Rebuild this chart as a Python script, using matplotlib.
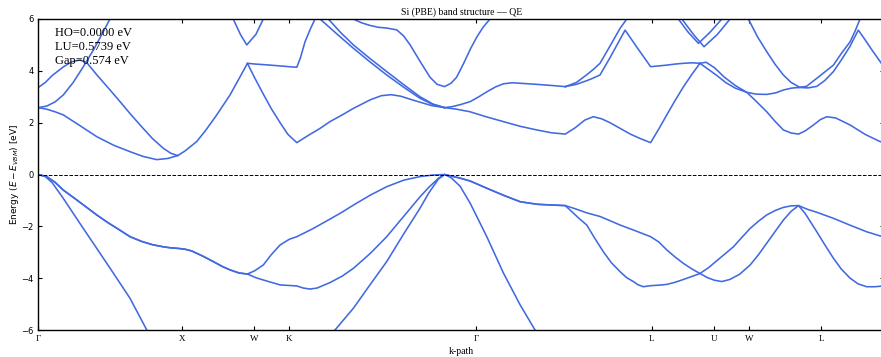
import matplotlib.pyplot as plt

plt.rcParams['font.family'] = 'Liberation Serif'
plt.rcParams['mathtext.fontset'] = 'dejavusans'

# k-axis ticks and labels
tick_pos = [0.0, 1.029, 1.547, 1.801, 3.140, 4.400, 4.845, 5.100, 5.615]
tick_lab = ['Γ', 'X', 'W', 'K', 'Γ', 'L', 'U', 'W', 'L']
k_end = 6.066

# valence bands (E - E_VBM, eV)
vb2a_k = [0.0, 0.05, 0.10, 0.179, 0.30, 0.419, 0.54, 0.658, 0.778, 0.82]
vb2a_e = [0.0, -0.08, -0.32, -0.92, -1.90, -2.85, -3.82, -4.78, -6.0, -6.35]

vb2b_k = [2.09, 2.128, 2.260, 2.38, 2.499, 2.62, 2.738, 2.80, 2.869, 2.914,
          2.96, 3.025, 3.097, 3.217, 3.336, 3.456, 3.563, 3.60]
vb2b_e = [-6.3, -6.0, -5.16, -4.25, -3.36, -2.30, -1.30, -0.72, -0.18, 0.0,
          -0.12, -0.45, -1.10, -2.40, -3.80, -5.03, -6.0, -6.3]

vb3_k = [0.0, 0.06, 0.12, 0.179, 0.25, 0.33, 0.419, 0.50, 0.58, 0.658, 0.74, 0.82, 0.897, 0.95, 1.0,
         1.05, 1.10, 1.18, 1.255, 1.32, 1.375, 1.44, 1.5,
         1.56, 1.614, 1.734, 1.854,
         1.90, 1.949, 2.00, 2.092, 2.18, 2.260, 2.38, 2.499, 2.62, 2.738, 2.80, 2.869, 2.914,
         2.97, 3.025, 3.097, 3.217, 3.336, 3.456, 3.58, 3.694, 3.780,
         3.83, 3.88, 3.934, 3.99, 4.053, 4.11, 4.173, 4.22, 4.268, 4.30, 4.340, 4.392,
         4.45, 4.508, 4.567, 4.627, 4.69, 4.746,
         4.80, 4.85, 4.903, 4.96, 5.03, 5.106, 5.165, 5.225, 5.285, 5.344, 5.40, 5.453,
         5.50, 5.584, 5.64, 5.703, 5.76, 5.823, 5.88, 5.942, 6.0, 6.066]
vb3_e = [0.0, -0.08, -0.30, -0.60, -0.88, -1.20, -1.56, -1.86, -2.13, -2.40, -2.58, -2.71, -2.79, -2.83, -2.85,
         -2.88, -2.95, -3.15, -3.36, -3.55, -3.68, -3.80, -3.84,
         -3.98, -4.07, -4.26, -4.30,
         -4.38, -4.42, -4.38, -4.17, -3.92, -3.62, -3.05, -2.40, -1.62, -0.86, -0.50, -0.15, 0.0,
         -0.07, -0.14, -0.25, -0.53, -0.80, -1.05, -1.15, -1.18, -1.20,
         -1.45, -1.70, -1.95, -2.45, -2.98, -3.40, -3.75, -3.98, -4.13, -4.25, -4.33, -4.29,
         -4.27, -4.24, -4.16, -4.05, -3.93, -3.82,
         -3.98, -4.08, -4.13, -4.05, -3.85, -3.49, -3.10, -2.65, -2.20, -1.76, -1.42, -1.20,
         -1.50, -2.21, -2.70, -3.23, -3.65, -4.00, -4.22, -4.33, -4.33, -4.30]

vb4_k = [0.0, 0.06, 0.12, 0.179, 0.25, 0.33, 0.419, 0.50, 0.58, 0.658, 0.74, 0.82, 0.897, 0.95, 1.0,
         1.05, 1.10, 1.18, 1.255, 1.32, 1.375, 1.44, 1.5,
         1.55, 1.614, 1.67, 1.734, 1.80, 1.854,
         1.91, 1.973, 2.092, 2.18, 2.260, 2.38, 2.499, 2.62, 2.738, 2.83, 2.914,
         2.97, 3.025, 3.097, 3.217, 3.336, 3.456, 3.58, 3.694, 3.780,
         3.85, 3.934, 4.029, 4.10, 4.173, 4.268, 4.33, 4.392,
         4.45, 4.508, 4.567, 4.627, 4.69, 4.746,
         4.806, 4.866, 4.926, 4.986, 5.046, 5.106, 5.166, 5.225, 5.285, 5.344, 5.40, 5.453,
         5.52, 5.58, 5.703, 5.82, 5.942, 6.038, 6.066]
vb4_e = [0.0, -0.08, -0.30, -0.60, -0.88, -1.20, -1.56, -1.86, -2.13, -2.40, -2.58, -2.71, -2.79, -2.83, -2.85,
         -2.88, -2.95, -3.15, -3.36, -3.55, -3.68, -3.80, -3.84,
         -3.72, -3.49, -3.10, -2.72, -2.50, -2.40,
         -2.25, -2.08, -1.72, -1.45, -1.18, -0.80, -0.47, -0.22, -0.08, -0.02, 0.0,
         -0.07, -0.14, -0.25, -0.53, -0.80, -1.05, -1.15, -1.18, -1.20,
         -1.32, -1.48, -1.62, -1.78, -1.95, -2.14, -2.27, -2.40,
         -2.60, -2.91, -3.18, -3.43, -3.65, -3.82,
         -3.60, -3.33, -3.06, -2.79, -2.43, -2.08, -1.80, -1.56, -1.39, -1.27, -1.21, -1.20,
         -1.35, -1.45, -1.69, -1.95, -2.21, -2.37, -2.40]

# conduction bands
cb5_k = [0.0, 0.06, 0.12, 0.179, 0.30, 0.419, 0.54, 0.658, 0.75, 0.849, 0.93, 1.0,
         1.05, 1.136, 1.20, 1.280, 1.375, 1.44, 1.5,
         1.55, 1.614, 1.67, 1.734, 1.79, 1.854,
         1.94, 2.021, 2.092, 2.18, 2.260, 2.38, 2.46, 2.53, 2.60, 2.67, 2.738, 2.82, 2.914,
         3.0, 3.097, 3.217, 3.336, 3.456, 3.575, 3.68, 3.780,
         3.85, 3.92, 3.981, 4.04, 4.10, 4.173, 4.25, 4.32, 4.392,
         4.45, 4.508, 4.567, 4.627, 4.69, 4.746]
cb5_e = [2.58, 2.52, 2.42, 2.30, 1.88, 1.46, 1.13, 0.88, 0.70, 0.5739, 0.62, 0.73,
         0.90, 1.27, 1.70, 2.30, 3.07, 3.70, 4.29,
         3.75, 3.10, 2.55, 2.00, 1.55, 1.23,
         1.52, 1.78, 2.04, 2.30, 2.55, 2.88, 3.04, 3.08, 3.02, 2.90, 2.79, 2.66, 2.58,
         2.52, 2.42, 2.22, 2.04, 1.86, 1.72, 1.61, 1.56,
         1.80, 2.10, 2.23, 2.15, 2.00, 1.78, 1.55, 1.38, 1.23,
         1.75, 2.30, 2.85, 3.38, 3.88, 4.29]

cb_wl_low_k = [4.746, 4.79, 4.85, 4.92, 5.0, 5.082, 5.15, 5.225, 5.285, 5.344, 5.40, 5.453,
               5.50, 5.560, 5.61, 5.656, 5.72, 5.823, 5.93, 6.038, 6.066]
cb_wl_low_e = [4.29, 4.33, 4.12, 3.76, 3.43, 3.17, 2.82, 2.42, 2.05, 1.72, 1.60, 1.56,
               1.68, 1.91, 2.12, 2.23, 2.18, 1.91, 1.55, 1.27, 1.23]
cb_wl_mid_k = [4.746, 4.80, 4.867, 4.93, 5.0, 5.082, 5.15, 5.225, 5.29, 5.344, 5.40, 5.453]
cb_wl_mid_e = [4.29, 4.08, 3.82, 3.55, 3.33, 3.17, 3.10, 3.09, 3.15, 3.26, 3.33, 3.36]

cb_d2_k = [0.0, 0.05, 0.10, 0.179, 0.24, 0.299, 0.35, 0.419, 0.50, 0.58, 0.658, 0.74, 0.82, 0.897, 0.95, 1.0]
cb_d2_e = [3.36, 3.55, 3.82, 4.15, 4.35, 4.42, 4.30, 3.85, 3.35, 2.85, 2.35, 1.85, 1.38, 1.01, 0.82, 0.73]

cb_d5_k = [0.0, 0.06, 0.12, 0.179, 0.25, 0.323, 0.40, 0.46, 0.514, 0.55]
cb_d5_e = [2.58, 2.64, 2.80, 3.07, 3.55, 4.16, 4.85, 5.45, 6.0, 6.4]

cb_wk_k = [1.5, 1.56, 1.614, 1.734, 1.82, 1.854, 1.88, 1.913, 1.95, 1.985, 2.01]
cb_wk_e = [4.29, 4.26, 4.24, 4.19, 4.15, 4.14, 4.50, 5.12, 5.60, 6.0, 6.3]

cb_kga_k = [2.0, 2.021, 2.14, 2.260, 2.38, 2.499, 2.62, 2.738, 2.83, 2.914]
cb_kga_e = [6.12, 6.0, 5.43, 4.87, 4.34, 3.84, 3.37, 2.94, 2.70, 2.58]
cb_kgb_k = [2.06, 2.080, 2.17, 2.260, 2.38, 2.499, 2.62, 2.738, 2.83, 2.914]
cb_kgb_e = [6.12, 6.0, 5.47, 5.0, 4.47, 3.97, 3.47, 3.0, 2.72, 2.58]

cb_g2_k = [2.24, 2.260, 2.32, 2.380, 2.44, 2.499, 2.571, 2.62, 2.667, 2.74, 2.810, 2.86, 2.914,
           2.96, 3.0, 3.052, 3.10, 3.145, 3.19, 3.24, 3.28]
cb_g2_e = [6.1, 6.0, 5.85, 5.75, 5.68, 5.65, 5.58, 5.35, 5.0, 4.35, 3.75, 3.48, 3.39,
           3.52, 3.75, 4.30, 4.85, 5.30, 5.68, 6.0, 6.3]

cb_l3_k = [2.914, 2.97, 3.03, 3.097, 3.16, 3.217, 3.28, 3.336, 3.40, 3.456, 3.57, 3.694, 3.780]
cb_l3_e = [2.58, 2.62, 2.70, 2.81, 3.00, 3.19, 3.38, 3.50, 3.54, 3.52, 3.48, 3.43, 3.39]

cb_lu1_k = [3.780, 3.86, 3.934, 3.98, 4.029, 4.10, 4.173, 4.221, 4.25]
cb_lu1_e = [3.39, 3.55, 3.85, 4.05, 4.29, 4.95, 5.64, 6.0, 6.3]
cb_lu2_k = [3.780, 3.86, 3.934, 3.98, 4.029, 4.10, 4.173, 4.209, 4.25, 4.30, 4.35, 4.392,
            4.45, 4.508, 4.567, 4.627, 4.69, 4.746]
cb_lu2_e = [3.39, 3.48, 3.62, 3.72, 3.84, 4.50, 5.22, 5.57, 5.25, 4.86, 4.48, 4.16,
            4.19, 4.22, 4.26, 4.29, 4.31, 4.29]

cb_wl_top_k = [5.07, 5.093, 5.16, 5.225, 5.285, 5.344, 5.40, 5.453]
cb_wl_top_e = [6.3, 6.0, 5.30, 4.74, 4.25, 3.84, 3.55, 3.39]

cb_lk1_k = [5.453, 5.51, 5.60, 5.703, 5.76, 5.823, 5.86, 5.894, 5.92]
cb_lk1_e = [3.36, 3.40, 3.78, 4.22, 4.67, 5.12, 5.55, 6.0, 6.3]
cb_lk2_k = [5.453, 5.52, 5.584, 5.64, 5.703, 5.76, 5.823, 5.846, 5.882, 5.93, 5.98, 6.038, 6.066]
cb_lk2_e = [3.36, 3.34, 3.40, 3.62, 3.97, 4.42, 4.95, 5.20, 5.57, 5.20, 4.80, 4.36, 4.14]

cb_w1_k = [1.37, 1.398, 1.45, 1.495, 1.56, 1.614, 1.64]
cb_w1_e = [6.4, 6.0, 5.4, 5.0, 5.4, 6.0, 6.4]
cb_w2a_k = [4.57, 4.591, 4.66, 4.735, 4.82, 4.903, 4.93]
cb_w2a_e = [6.3, 6.0, 5.5, 5.06, 5.5, 6.0, 6.3]
cb_w2b_k = [4.59, 4.616, 4.70, 4.775, 4.87, 4.962, 4.99]
cb_w2b_e = [6.3, 6.0, 5.4, 4.93, 5.4, 6.0, 6.3]

bands = [
    (vb2a_k, vb2a_e), (vb2b_k, vb2b_e), (vb3_k, vb3_e), (vb4_k, vb4_e),
    (cb5_k, cb5_e), (cb_wl_low_k, cb_wl_low_e), (cb_wl_mid_k, cb_wl_mid_e),
    (cb_d2_k, cb_d2_e), (cb_d5_k, cb_d5_e), (cb_wk_k, cb_wk_e),
    (cb_kga_k, cb_kga_e), (cb_kgb_k, cb_kgb_e), (cb_g2_k, cb_g2_e), (cb_l3_k, cb_l3_e),
    (cb_lu1_k, cb_lu1_e), (cb_lu2_k, cb_lu2_e), (cb_wl_top_k, cb_wl_top_e),
    (cb_lk1_k, cb_lk1_e), (cb_lk2_k, cb_lk2_e), (cb_w1_k, cb_w1_e), (cb_w2a_k, cb_w2a_e),
    (cb_w2b_k, cb_w2b_e),
]

ho = max(vb3_e + vb4_e)
lu = min(cb5_e)

fig = plt.figure(figsize=(8.81, 3.57), dpi=100)
ax = fig.add_axes([0.0435, 0.0756, 0.9599, 0.8712])

for k, e in bands:
    ax.plot(k, e, color='royalblue', lw=1.15)
ax.axhline(0, color='k', ls='--', lw=0.7)

ax.set_xlim(0, k_end)
ax.set_ylim(-6, 6)
ax.set_xticks(tick_pos)
ax.set_xticklabels(tick_lab)
ax.set_yticks([-6, -4, -2, 0, 2, 4, 6])
ax.tick_params(direction='in', top=True, right=True, length=3, width=0.8)
ax.tick_params(axis='x', labelsize=6.5)
ax.tick_params(axis='y', labelsize=6, labelfontfamily='DejaVu Sans')
for s in ax.spines.values():
    s.set_linewidth(1.0)

ax.set_xlabel('k-path', fontsize=7, labelpad=3)
ax.set_ylabel(r'Energy ($E - E_{VBM}$) [eV]', fontsize=6.5, family='DejaVu Sans', labelpad=0)
ax.set_title('Si (PBE) band structure — QE', fontsize=7, pad=3)

ax.text(0.02, 0.975, f'HO={ho:.4f} eV\nLU={lu:.4f} eV\nGap={lu - ho:.3f} eV',
        transform=ax.transAxes, va='top', ha='left', fontsize=9, linespacing=1.25)

fig.savefig('out.png', dpi=100)
